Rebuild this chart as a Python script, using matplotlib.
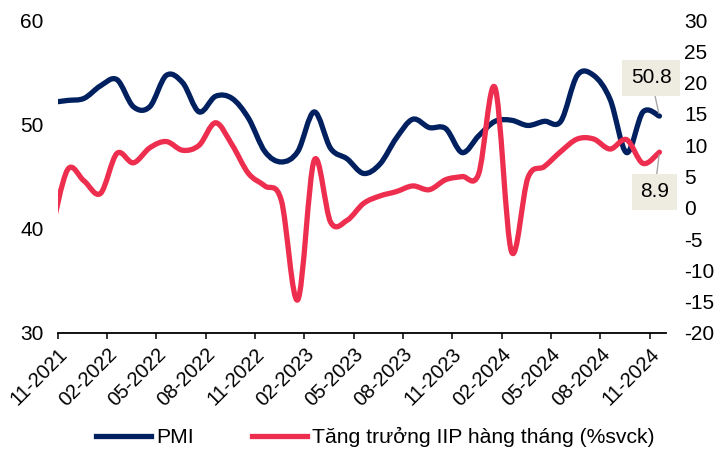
import numpy as np
import matplotlib
matplotlib.use("Agg")
import matplotlib.pyplot as plt
import matplotlib.transforms as mtransforms
from matplotlib.path import Path
from matplotlib.patches import PathPatch
from matplotlib.lines import Line2D

plt.rcParams['font.family'] = ['Liberation Sans', 'DejaVu Sans']
plt.rcParams['axes.unicode_minus'] = False

# monthly data, 10-2021 .. 11-2024 (first point sits just left of the visible axis)
months = ['10-2021', '11-2021', '12-2021',
          '01-2022', '02-2022', '03-2022', '04-2022', '05-2022', '06-2022',
          '07-2022', '08-2022', '09-2022', '10-2022', '11-2022', '12-2022',
          '01-2023', '02-2023', '03-2023', '04-2023', '05-2023', '06-2023',
          '07-2023', '08-2023', '09-2023', '10-2023', '11-2023', '12-2023',
          '01-2024', '02-2024', '03-2024', '04-2024', '05-2024', '06-2024',
          '07-2024', '08-2024', '09-2024', '10-2024', '11-2024']
pmi = [52.1, 52.3, 52.5,
       53.7, 54.3, 51.7, 51.7, 54.7, 54.0, 51.2, 52.7, 52.5, 50.6, 47.4, 46.4,
       47.4, 51.2, 47.7, 46.7, 45.3, 46.2, 48.7, 50.5, 49.7, 49.6, 47.3, 48.9,
       50.3, 50.4, 49.9, 50.3, 50.3, 54.7, 54.7, 52.4, 47.3, 51.2, 50.8]
iip = [-4.0, 6.1, 4.3,
       2.3, 8.7, 7.2, 9.6, 10.6, 9.2, 10.0, 13.6, 10.1, 5.5, 3.5, 1.2,
       -14.7, 7.6, -2.3, -2.0, 0.7, 1.9, 2.6, 3.5, 2.9, 4.5, 5.0, 5.4,
       19.2, -7.0, 4.8, 6.6, 9.0, 11.0, 11.0, 9.4, 10.9, 7.1, 8.9]
tick_labels = ['11-2021', '02-2022', '05-2022', '08-2022', '11-2022', '02-2023',
               '05-2023', '08-2023', '11-2023', '02-2024', '05-2024', '08-2024',
               '11-2024']

navy = '#002060'
red = '#EE2E4E'
fs = 15

x = np.arange(len(months)) - 1  # 11-2021 -> 0


def smooth_path(xs, ys):
    # Excel-style smoothed line: cubic bezier through every point
    pts = np.column_stack([xs, ys]).astype(float)
    verts = [pts[0]]
    codes = [Path.MOVETO]
    n = len(pts)
    for i in range(n - 1):
        p0 = pts[i - 1] if i > 0 else pts[i]
        p1 = pts[i]
        p2 = pts[i + 1]
        p3 = pts[i + 2] if i + 2 < n else pts[i + 1]
        c1 = p1 + (p2 - p0) / 6.0
        c2 = p2 - (p3 - p1) / 6.0
        verts += [c1, c2, p2]
        codes += [Path.CURVE4] * 3
    return Path(verts, codes)


fig = plt.figure(figsize=(7.18, 4.53), dpi=100)
ax1 = fig.add_axes([0.0804, 0.265, 0.8472, 0.6905])
ax2 = ax1.twinx()

ax1.add_patch(PathPatch(smooth_path(x, pmi), fill=False, ec=navy, lw=3.8,
                        capstyle='round', joinstyle='round'))
ax2.add_patch(PathPatch(smooth_path(x, iip), fill=False, ec=red, lw=3.8,
                        capstyle='round', joinstyle='round'))

ax1.set_xlim(-0.6, 36.4)
ax1.set_ylim(30, 60)
ax2.set_ylim(-20, 30)
ax1.set_yticks([30, 40, 50, 60])
ax2.set_yticks(np.arange(-20, 31, 5))

ax1.set_xticks(np.arange(len(tick_labels)) * 3 - 0.6)
ax1.set_xticklabels(tick_labels, rotation=45, ha='right', va='top',
                    rotation_mode='anchor', fontsize=fs - 0.5)
shift = mtransforms.ScaledTranslation(4 / 100, -2 / 100, fig.dpi_scale_trans)
for lab in ax1.get_xticklabels():
    lab.set_transform(lab.get_transform() + shift)

for s in ['top', 'left', 'right']:
    ax1.spines[s].set_visible(False)
for s in ax2.spines.values():
    s.set_visible(False)
ax1.spines['bottom'].set_linewidth(1.3)
ax1.tick_params(axis='x', length=4.5, width=1.1, pad=4)
ax1.tick_params(axis='y', length=0, labelsize=fs, pad=10)
ax2.tick_params(axis='y', length=0, labelsize=fs, pad=13)

box = dict(boxstyle='square,pad=0.4', fc='#EEECE1', ec='none')
ax1.annotate('50.8', xy=(36, pmi[-1]), xytext=(-6, 27.5), textcoords='offset points',
             ha='center', va='center', fontsize=fs, bbox=box,
             arrowprops=dict(arrowstyle='-', color='#A6A6A6', lw=1,
                             shrinkA=0, shrinkB=2))
ax2.annotate('8.9', xy=(36, iip[-1]), xytext=(-3.5, -28.5), textcoords='offset points',
             ha='center', va='center', fontsize=fs, bbox=box,
             arrowprops=dict(arrowstyle='-', color='#A6A6A6', lw=1,
                             shrinkA=0, shrinkB=2))

handles = [Line2D([], [], color=navy, lw=3.8),
           Line2D([], [], color=red, lw=3.8)]
fig.legend(handles, ['PMI', 'Tăng trưởng IIP hàng tháng (%svck)'],
           loc='center', bbox_to_anchor=(0.523, 0.035), ncol=2, frameon=False,
           fontsize=fs + 0.2, handlelength=2.6, handletextpad=0.25,
           columnspacing=2.75)

fig.savefig('out.png', dpi=100)
